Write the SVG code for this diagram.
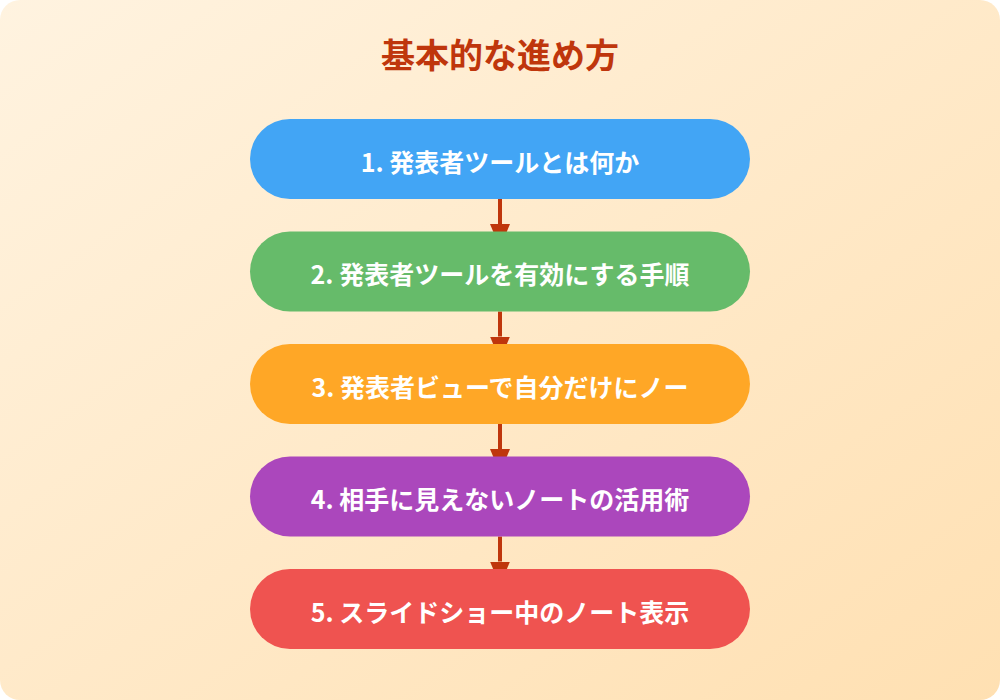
<svg xmlns="http://www.w3.org/2000/svg" width="1000" height="700" viewBox="0 0 1000 700">
<defs>
<linearGradient id="bg" x1="0" y1="0" x2="1" y2="1">
<stop offset="0" stop-color="#FFF3E0"/>
<stop offset="1" stop-color="#FFE0B2"/>
</linearGradient>
<marker id="arr" markerUnits="userSpaceOnUse" markerWidth="24" markerHeight="20" viewBox="0 0 24 20" refX="0" refY="10" orient="auto">
<path d="M0,0 L24,10 L0,20 z" fill="#BF360C"/>
</marker>
<style>
.node text{font-family:"Noto Sans CJK JP","Noto Sans",sans-serif;font-weight:700;font-size:25px;fill:#FFFFFF;text-anchor:middle}
.title{font-family:"Noto Sans CJK JP","Noto Sans",sans-serif;font-weight:700;font-size:34px;fill:#BF360C;text-anchor:middle}
.conn line{stroke:#BF360C;stroke-width:4;marker-end:url(#arr)}
</style>
</defs>
<rect x="0" y="0" width="1000" height="700" fill="#FFFFFF"/>
<rect x="0" y="0" width="1000" height="700" rx="20" fill="url(#bg)"/>
<text class="title" x="500" y="68">基本的な進め方</text>
<g id="connectors" class="conn">
<line x1="500" y1="199" x2="500" y2="224"/>
<line x1="500" y1="311.5" x2="500" y2="336.5"/>
<line x1="500" y1="424" x2="500" y2="449"/>
<line x1="500" y1="536.5" x2="500" y2="561.5"/>
</g>
<g id="node1" class="node">
<rect x="250" y="119" width="500" height="80" rx="40" fill="#42A5F5"/>
<text x="500" y="171.5">1. 発表者ツールとは何か</text>
</g>
<g id="node2" class="node">
<rect x="250" y="231.5" width="500" height="80" rx="40" fill="#66BB6A"/>
<text x="500" y="284">2. 発表者ツールを有効にする手順</text>
</g>
<g id="node3" class="node">
<rect x="250" y="344" width="500" height="80" rx="40" fill="#FFA726"/>
<text x="500" y="396.5">3. 発表者ビューで自分だけにノー</text>
</g>
<g id="node4" class="node">
<rect x="250" y="456.5" width="500" height="80" rx="40" fill="#AB47BC"/>
<text x="500" y="509">4. 相手に見えないノートの活用術</text>
</g>
<g id="node5" class="node">
<rect x="250" y="569" width="500" height="80" rx="40" fill="#EF5350"/>
<text x="500" y="621.5">5. スライドショー中のノート表示</text>
</g>
</svg>
